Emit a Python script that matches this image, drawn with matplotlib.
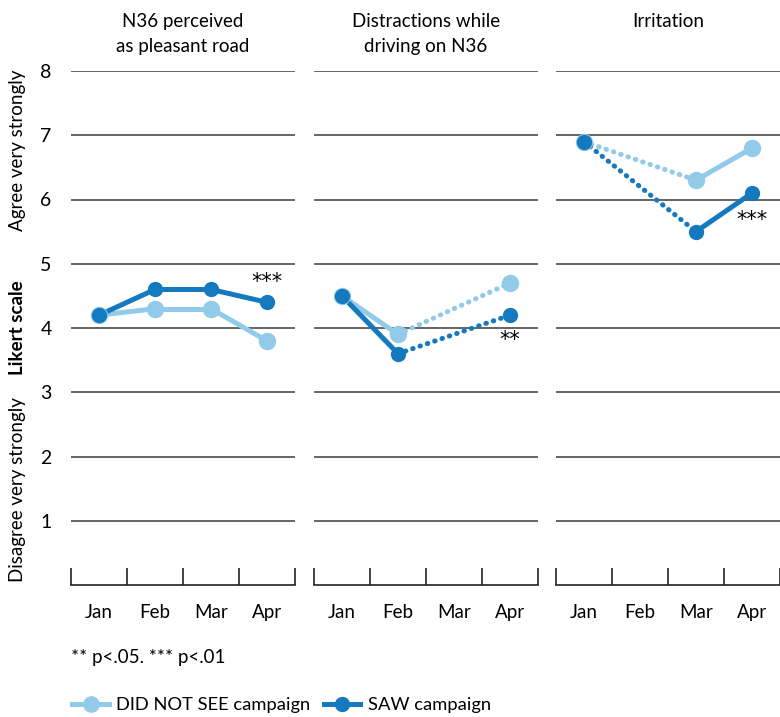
import numpy as np
import matplotlib
matplotlib.use('Agg')
import matplotlib.pyplot as plt
from matplotlib.lines import Line2D

plt.rcParams['font.family'] = ['Lato', 'DejaVu Sans']

months = ['Jan', 'Feb', 'Mar', 'Apr']
titles = ['N36 perceived\nas pleasant road', 'Distractions while\ndriving on N36', 'Irritation\n ']

# values per panel (nan = no measurement)
notseen_pleasant = [4.2, 4.3, 4.3, 3.8]
saw_pleasant = [4.2, 4.6, 4.6, 4.4]
notseen_distract = [4.5, 3.9, np.nan, 4.7]
saw_distract = [4.5, 3.6, np.nan, 4.2]
notseen_irrit = [6.9, np.nan, 6.3, 6.8]
saw_irrit = [6.9, np.nan, 5.5, 6.1]

# segments drawn solid (rest dotted), as (from, to) index pairs
solid_segs = [[(0, 1), (1, 2), (2, 3)], [(0, 1)], [(2, 3)]]
dotted_segs = [[], [(1, 3)], [(0, 2)]]

stars = ['***', '**', '***']
star_y = [4.72, 3.82, 5.68]

light = '#92cbe9'
dark = '#1479be'

series = [(notseen_pleasant, saw_pleasant),
          (notseen_distract, saw_distract),
          (notseen_irrit, saw_irrit)]

fs = 13.5
fig = plt.figure(figsize=(7.8, 7.17), dpi=100)
lefts = [71, 314, 556]
width = 224
for i in range(3):
    ax = fig.add_axes([lefts[i] / 780, 1 - 585 / 717, width / 780, (585 - 71) / 717])
    ns, sw = series[i]
    for vals, col, ms in [(ns, light, 11.5), (sw, dark, 10)]:
        for a, b in solid_segs[i]:
            ax.plot([a, b], [vals[a], vals[b]], color=col, lw=3.6,
                    solid_capstyle='round', zorder=3)
        for a, b in dotted_segs[i]:
            ax.plot([a, b], [vals[a], vals[b]], color=col, lw=3.6,
                    linestyle=(0, (0.1, 1.45)), dash_capstyle='round', zorder=3)
        x = np.arange(4)
        ax.plot(x, vals, linestyle='none', marker='o', ms=ms, color=col, zorder=4)
    ax.text(3, star_y[i], stars[i], ha='center', va='center', fontsize=15,
            family='DejaVu Sans')

    ax.set_xlim(-0.5, 3.5)
    ax.set_ylim(0, 8)
    for y in range(1, 9):
        ax.axhline(y, color='#4a4a4a', lw=1.2, zorder=1)
    ax.set_xticks(np.arange(-0.5, 4, 1))
    ax.set_xticklabels([])
    ax.set_xticks(np.arange(4), minor=True)
    ax.set_xticklabels(months, minor=True, fontsize=fs)
    ax.tick_params(axis='x', which='major', direction='in', length=12, width=1.2, color='#222222')
    ax.tick_params(axis='x', which='minor', length=0, pad=14)
    for s in ['top', 'right', 'left']:
        ax.spines[s].set_visible(False)
    ax.spines['bottom'].set_linewidth(1.2)
    ax.spines['bottom'].set_color('#222222')
    if i == 0:
        ax.set_yticks(range(1, 9))
        ax.tick_params(axis='y', length=0, labelsize=fs + 0.5, pad=14)
    else:
        ax.set_yticks([])
    ax.set_title(titles[i], fontsize=fs, pad=14, linespacing=1.55)

fig.text(18 / 780, 1 - 150 / 717, 'Agree very strongly', rotation=90, ha='center', va='center', fontsize=fs)
fig.text(18 / 780, 1 - 328 / 717, 'Likert scale', rotation=90, ha='center', va='center',
         fontsize=fs, fontweight='bold')
fig.text(18 / 780, 1 - 490 / 717, 'Disagree very strongly', rotation=90, ha='center', va='center', fontsize=fs)

fig.text(71 / 780, 1 - 658 / 717, '** p<.05. *** p<.01', ha='left', va='center', fontsize=fs)

handles = [Line2D([0], [0], color=light, lw=3.6, marker='o', ms=11),
           Line2D([0], [0], color=dark, lw=3.6, marker='o', ms=10)]
fig.legend(handles, ['DID NOT SEE campaign', 'SAW campaign'], loc='center left',
           bbox_to_anchor=(56 / 780, 1 - 705 / 717), ncol=2, frameon=False, fontsize=13.2,
           handlelength=2.0, handletextpad=0.4, columnspacing=0.7)

fig.savefig('out.png', dpi=100)
